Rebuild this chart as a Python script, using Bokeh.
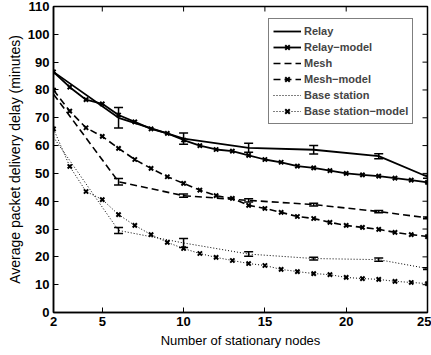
import math
from bokeh.plotting import figure
from bokeh.models import (ColumnDataSource, Whisker, TeeHead, Legend, LegendItem,
                          FixedTicker, Range1d)
from bokeh.embed import file_html
from bokeh.resources import INLINE

# ---- data ----
x_sim = [2, 6, 10, 14, 18, 22, 25]
relay = [86.5, 70.0, 62.5, 59.2, 58.5, 56.2, 48.8]
relay_err = [0.0, 3.7, 2.0, 1.6, 1.5, 0.9, 0.5]
mesh = [78.5, 47.0, 42.0, 40.3, 38.8, 36.3, 34.0]
mesh_err = [0.0, 1.2, 0.6, 0.6, 0.5, 0.4, 0.3]
base = [63.0, 29.5, 25.0, 21.0, 19.4, 19.0, 15.8]
base_err = [0.0, 1.1, 1.6, 0.8, 0.5, 0.6, 0.3]

x_model = list(range(2, 26))
relay_model = [86.5, 81.0, 76.5, 75.0, 71.0, 68.5, 66.0, 64.4, 62.0, 60.0, 58.6, 58.0,
               56.5, 55.0, 54.0, 52.6, 52.0, 51.0, 50.0, 49.5, 49.0, 48.3, 47.6, 46.8]
mesh_model = [80.0, 72.4, 66.4, 63.3, 59.0, 55.0, 51.8, 48.8, 46.4, 44.0, 42.0, 41.0,
              38.5, 37.4, 36.0, 34.5, 33.8, 32.4, 31.3, 30.6, 29.9, 28.8, 28.0, 27.3]
base_model = [66.0, 52.5, 43.5, 40.6, 35.2, 31.3, 28.0, 25.2, 23.0, 21.2, 19.8, 18.7,
              17.6, 16.9, 15.5, 14.7, 14.0, 13.6, 12.6, 12.2, 11.9, 11.2, 10.8, 10.4]

x_ticks = [2, 5, 10, 15, 20, 25]
y_ticks = list(range(0, 111, 10))
labels = ["Relay", "Relay\u2212model", "Mesh", "Mesh\u2212model", "Base station",
          "Base station\u2212model"]

FONT = "Liberation Sans"
X0, X1, Y0, Y1 = 2, 25, 0, 110

p = figure(width=431, height=355, output_backend="svg", toolbar_location=None,
           x_range=Range1d(X0, X1), y_range=Range1d(Y0, Y1),
           min_border_left=53, min_border_right=4, min_border_top=6,
           min_border_bottom=43)
p.xgrid.visible = False
p.ygrid.visible = False
p.outline_line_color = "black"
p.outline_line_width = 1.5
p.background_fill_color = "white"
p.border_fill_color = "white"

for ax, ticks in ((p.xaxis[0], x_ticks), (p.yaxis[0], y_ticks)):
    ax.ticker = FixedTicker(ticks=ticks)
    ax.major_tick_in = 5
    ax.major_tick_out = 0
    ax.minor_tick_line_color = None
    ax.axis_line_width = 1.5
    ax.major_tick_line_width = 1
    ax.major_label_text_font = FONT
    ax.major_label_text_font_style = "bold"
    ax.major_label_text_font_size = "13px"
    ax.major_label_text_color = "black"
    ax.axis_label_text_font = FONT
    ax.axis_label_text_font_style = "normal"
    ax.axis_label_text_font_size = "13px"
    ax.axis_label_text_color = "black"
    ax.major_label_standoff = 4
    ax.axis_label_standoff = 4

p.xaxis[0].axis_label = "Number of stationary nodes"
p.yaxis[0].axis_label = "Average packet delivery delay (minutes)"
p.yaxis[0].axis_label_text_font_size = "14px"
p.yaxis[0].axis_label_standoff = 2

# inward ticks on the top and right edges of the box
p.ray(x=x_ticks, y=[Y1] * len(x_ticks), length=5, length_units="screen",
      angle=-math.pi / 2, line_color="black", line_width=1)
p.ray(x=[X1] * len(y_ticks), y=y_ticks, length=5, length_units="screen",
      angle=math.pi, line_color="black", line_width=1)

def series(xs, ys, dash, width, marker):
    r = p.line(xs, ys, line_color="black", line_width=width, line_dash=dash)
    rs = [r]
    if marker:
        s = p.scatter(xs, ys, marker="x", size=6, line_color="black", line_width=2)
        rs.append(s)
    return rs

r1 = series(x_sim, relay, "solid", 1.8, False)
r2 = series(x_model, relay_model, "solid", 1.8, True)
r3 = series(x_sim, mesh, "7 4", 1.6, False)
r4 = series(x_model, mesh_model, "7 4", 1.6, True)
r5 = series(x_sim, base, "1 2", 1.0, False)
r6 = series(x_model, base_model, "1 2", 1.0, True)

for ys, es in ((relay, relay_err), (mesh, mesh_err), (base, base_err)):
    xs = [x for x, e in zip(x_sim, es) if e > 0]
    up = [y + e for y, e in zip(ys, es) if e > 0]
    lo = [y - e for y, e in zip(ys, es) if e > 0]
    src = ColumnDataSource(dict(x=xs, upper=up, lower=lo))
    w = Whisker(source=src, base="x", upper="upper", lower="lower",
                line_color="black", line_width=1.5,
                upper_head=TeeHead(size=9, line_color="black", line_width=1.5),
                lower_head=TeeHead(size=9, line_color="black", line_width=1.5))
    p.add_layout(w)

items = [LegendItem(label=l, renderers=r) for l, r in zip(labels, [r1, r2, r3, r4, r5, r6])]
legend = Legend(items=items, location=(215, 188), glyph_width=28, glyph_height=16,
                label_height=16, spacing=0, padding=4, margin=0, label_standoff=3,
                label_text_font=FONT, label_text_font_style="bold",
                label_text_font_size="11px", border_line_color="black",
                border_line_width=1, background_fill_alpha=1)
p.add_layout(legend, "center")

open("out.html", "w").write(file_html(p, INLINE))
